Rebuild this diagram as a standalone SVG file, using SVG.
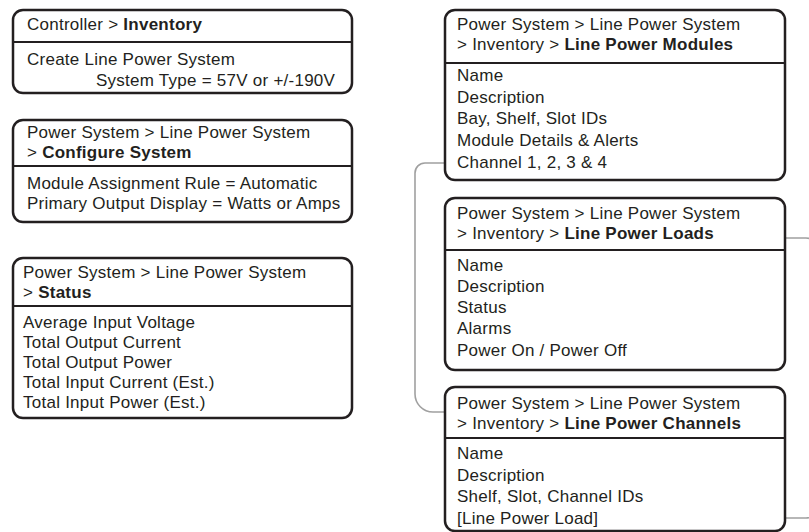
<svg xmlns="http://www.w3.org/2000/svg" width="809" height="532" viewBox="0 0 809 532">
<style>
.box{fill:#fff;stroke:#231f20;stroke-width:2.5}
.sep{stroke:#231f20;stroke-width:2}
text{font-family:"Liberation Sans",Arial,sans-serif;font-size:17px;letter-spacing:0.25px;fill:#231f20}
.b{font-weight:bold}
.con{fill:none;stroke:#a0a0a0;stroke-width:1.6}
</style>
<rect width="809" height="532" fill="#fff"/>
<g id="connectors">
<path class="con" d="M455,163 H425 A10,10 0 0 0 415,173 V394 A18,18 0 0 0 433,412 H445"/>
<path class="con" d="M612,518 H806 A12,12 0 0 0 818,506 V250 A12,12 0 0 0 806,238 H786"/>
</g>
<g id="controller-inventory">
<rect class="box" x="13" y="10" width="339" height="83" rx="10"/>
<line class="sep" x1="13" y1="42" x2="352" y2="42"/>
<text x="27" y="30">Controller &gt; <tspan class="b">Inventory</tspan></text>
<text x="27" y="65">Create Line Power System</text>
<text x="96" y="86">System Type = 57V or +/-190V</text>
</g>
<g id="configure-system">
<rect class="box" x="13" y="120" width="339" height="102" rx="10"/>
<line class="sep" x1="13" y1="166" x2="352" y2="166"/>
<text x="27" y="138">Power System &gt; Line Power System</text>
<text x="27" y="158">&gt; <tspan class="b">Configure System</tspan></text>
<text x="27" y="189">Module Assignment Rule = Automatic</text>
<text x="27" y="209">Primary Output Display = Watts or Amps</text>
</g>
<g id="status">
<rect class="box" x="13" y="258" width="339" height="160" rx="10"/>
<line class="sep" x1="13" y1="306" x2="352" y2="306"/>
<text x="23" y="278">Power System &gt; Line Power System</text>
<text x="23" y="298">&gt; <tspan class="b">Status</tspan></text>
<text x="23" y="328">Average Input Voltage</text>
<text x="23" y="348">Total Output Current</text>
<text x="23" y="368">Total Output Power</text>
<text x="23" y="388">Total Input Current (Est.)</text>
<text x="23" y="408">Total Input Power (Est.)</text>
</g>
<g id="line-power-modules">
<rect class="box" x="445" y="10" width="340" height="170" rx="10"/>
<line class="sep" x1="445" y1="63" x2="785" y2="63"/>
<text x="457" y="30">Power System &gt; Line Power System</text>
<text x="457" y="50">&gt; Inventory &gt; <tspan class="b">Line Power Modules</tspan></text>
<text x="457" y="81">Name</text>
<text x="457" y="102.7">Description</text>
<text x="457" y="124.3">Bay, Shelf, Slot IDs</text>
<text x="457" y="146">Module Details &amp; Alerts</text>
<text x="457" y="167.7">Channel 1, 2, 3 &amp; 4</text>
</g>
<g id="line-power-loads">
<rect class="box" x="445" y="198" width="340" height="172" rx="10"/>
<line class="sep" x1="445" y1="250" x2="785" y2="250"/>
<text x="457" y="219">Power System &gt; Line Power System</text>
<text x="457" y="239">&gt; Inventory &gt; <tspan class="b">Line Power Loads</tspan></text>
<text x="457" y="271">Name</text>
<text x="457" y="292">Description</text>
<text x="457" y="313">Status</text>
<text x="457" y="334">Alarms</text>
<text x="457" y="356">Power On / Power Off</text>
</g>
<g id="line-power-channels">
<rect class="box" x="445" y="387" width="340" height="144" rx="10"/>
<line class="sep" x1="445" y1="438" x2="785" y2="438"/>
<text x="457" y="409">Power System &gt; Line Power System</text>
<text x="457" y="429">&gt; Inventory &gt; <tspan class="b">Line Power Channels</tspan></text>
<text x="457" y="459">Name</text>
<text x="457" y="480.7">Description</text>
<text x="457" y="502.3">Shelf, Slot, Channel IDs</text>
<text x="457" y="524">[Line Power Load]</text>
</g>
</svg>
